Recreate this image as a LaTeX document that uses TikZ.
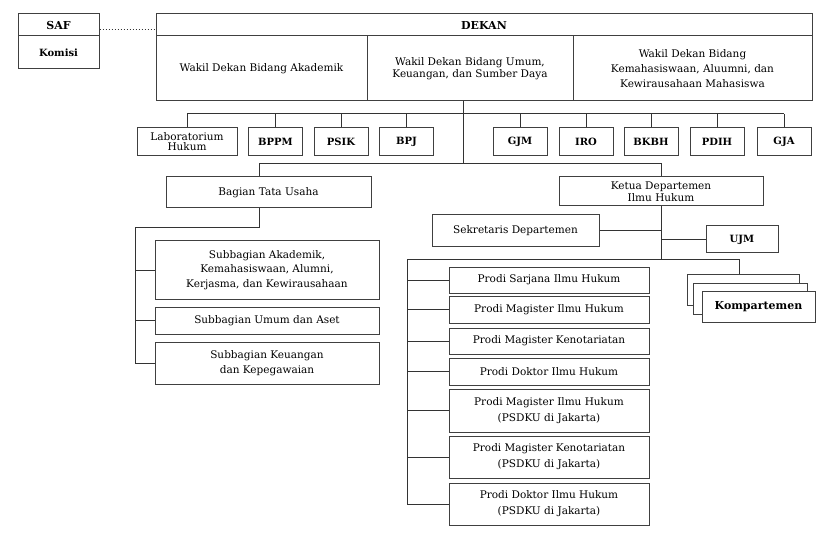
\documentclass[tikz,border=0pt]{standalone}
\usepackage{fontspec}
\setmainfont{DejaVu Serif}
\usetikzlibrary{calc}

\tikzset{
    box/.style={draw=black!75, line width=1pt, fill=white, inner sep=1pt, align=center,
        font=\fontsize{10.5}{12.5}\selectfont},
    unit/.style={box, minimum width=54pt, minimum height=28pt, font=\bfseries\fontsize{10}{11}\selectfont},
    prodi/.style={box, minimum width=200pt},
    link/.style={draw=black!80, line width=1pt}
}

\begin{document}
\begin{tikzpicture}[x=1pt,y=-1pt]
    \useasboundingbox (0,0) rectangle (830,540);

    % senat and dekan
    \node[box, minimum width=81pt, minimum height=22pt, font=\bfseries\fontsize{11}{12}\selectfont] (saf) at (58.5,25) {SAF};
    \node[box, minimum width=81pt, minimum height=33pt, font=\bfseries\fontsize{10}{11}\selectfont] (komisi) at (58.5,52.5) {Komisi};
    \node[box, minimum width=656pt, minimum height=22pt, font=\bfseries\fontsize{11}{12}\selectfont] (dekan) at (484,25) {DEKAN};
    \node[box, minimum width=211pt, minimum height=65pt] (wd1) at (261.5,68.5) {Wakil Dekan Bidang Akademik};
    \node[box, minimum width=206pt, minimum height=65pt] (wd2) at (470,68.5) {Wakil Dekan Bidang Umum,\\Keuangan, dan Sumber Daya};
    \node[box, minimum width=239pt, minimum height=65pt, font=\fontsize{10.5}{15}\selectfont] (wd3) at (692.5,68.5) {Wakil Dekan Bidang\\Kemahasiswaan, Aluumni, dan\\Kewirausahaan Mahasiswa};
    \draw[link, dotted] (saf.east |- 0,30) -- (dekan.west |- 0,30);

    % units
    \coordinate (top) at (463,101);
    \coordinate (bar) at (463,114);
    \coordinate (mid) at (463,164);
    \node[unit, minimum width=100pt, font=\fontsize{10.5}{10}\selectfont] (lab) at (187,142) {Laboratorium\\Hukum};
    \foreach \n/\x/\t in {bppm/275.5/BPPM, psik/341/PSIK, bpj/406.5/BPJ, gjm/520/GJM, iro/586/IRO, bkbh/651/BKBH, pdih/717/PDIH, gja/784/GJA}
    {
        \node[unit] (\n) at (\x,142) {\t};
        \draw[link] (\n.north) -- (\n.north |- bar);
    }
    \draw[link] (lab.north) -- (lab.north |- bar) -- (gja.north |- bar);
    \draw[link] (top) -- (mid);

    % tata usaha
    \node[box, minimum width=205pt, minimum height=31pt] (tu) at (268.5,192.5) {Bagian Tata Usaha};
    \node[box, minimum width=224pt, minimum height=58pt, font=\fontsize{10.5}{14.5}\selectfont] (sub1) at (267,270) {Subbagian Akademik,\\Kemahasiswaan, Alumni,\\Kerjasma, dan Kewirausahaan};
    \node[box, minimum width=224pt, minimum height=27pt] (sub2) at (267,320.5) {Subbagian Umum dan Aset};
    \node[box, minimum width=224pt, minimum height=42pt, font=\fontsize{10.5}{15}\selectfont] (sub3) at (267,363) {Subbagian Keuangan\\dan Kepegawaian};
    \coordinate (tuleft) at (135,228);
    \draw[link] (mid) -- (259,164) -- (tu.north -| 259,0);
    \draw[link] (tu.south -| 259,0) -- (259,228) -- (tuleft) -- (tuleft |- sub3.west) -- (sub3.west);
    \draw[link] (tuleft |- sub1.west) -- (sub1.west);
    \draw[link] (tuleft |- sub2.west) -- (sub2.west);

    % departemen
    \node[box, minimum width=204pt, minimum height=29pt, font=\fontsize{10.5}{12}\selectfont] (ketua) at (661,191.5) {Ketua Departemen\\Ilmu Hukum};
    \node[box, minimum width=167pt, minimum height=32pt] (sek) at (515.5,231) {Sekretaris Departemen};
    \node[unit, minimum width=72pt, minimum height=27pt] (ujm) at (742,239.5) {UJM};
    \coordinate (dept) at (661,259);
    \draw[link] (mid) -- (ketua.north |- mid) -- (ketua.north);
    \draw[link] (ketua.south) -- (dept);
    \draw[link] (sek.east) -- (sek.east -| dept);
    \draw[link] (ujm.west -| dept) -- (ujm.west);

    % prodi
    \node[prodi, minimum height=26pt] (p1) at (549,280) {Prodi Sarjana Ilmu Hukum};
    \node[prodi, minimum height=27pt] (p2) at (549,309.5) {Prodi Magister Ilmu Hukum};
    \node[prodi, minimum height=26pt] (p3) at (549,341) {Prodi Magister Kenotariatan};
    \node[prodi, minimum height=27pt] (p4) at (549,371.5) {Prodi Doktor Ilmu Hukum};
    \node[prodi, minimum height=43pt, font=\fontsize{10.5}{16}\selectfont] (p5) at (549,410.5) {Prodi Magister Ilmu Hukum\\(PSDKU di Jakarta)};
    \node[prodi, minimum height=42pt, font=\fontsize{10.5}{16}\selectfont] (p6) at (549,457) {Prodi Magister Kenotariatan\\(PSDKU di Jakarta)};
    \node[prodi, minimum height=42pt, font=\fontsize{10.5}{16}\selectfont] (p7) at (549,504) {Prodi Doktor Ilmu Hukum\\(PSDKU di Jakarta)};
    \coordinate (pleft) at (407,259);
    \draw[link] (pleft) -- (pleft |- p7.west) -- (p7.west);
    \foreach \p in {p1,p2,p3,p4,p5,p6}
        \draw[link] (pleft |- \p.west) -- (\p.west);

    % kompartemen
    \node[box, minimum width=112pt, minimum height=31pt] (k1) at (743,289.5) {};
    \node[box, minimum width=114pt, minimum height=31pt] (k2) at (750,298.5) {};
    \node[box, minimum width=113pt, minimum height=31pt, font=\bfseries\fontsize{11}{12}\selectfont] (komp) at (758.5,306.5) {Kompartemen};
    \draw[link] (pleft) -- (739,259) -- (k1.north -| 739,0);
\end{tikzpicture}
\end{document}
